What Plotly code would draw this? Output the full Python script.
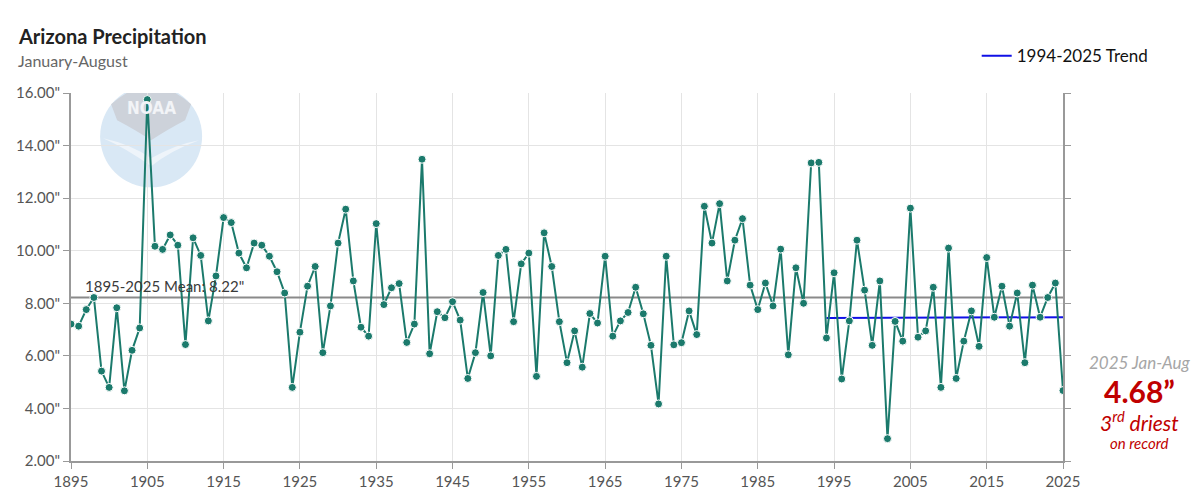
import plotly.graph_objects as go

years = list(range(1895, 2026))
precip = [
    7.21, 7.13, 7.76, 8.22, 5.42, 4.80, 7.83, 4.67, 6.21, 7.06,   # 1895-1904
    15.75, 10.17, 10.05, 10.60, 10.21, 6.43, 10.49, 9.82, 7.33, 9.04,  # 1905-1914
    11.26, 11.07, 9.91, 9.35, 10.29, 10.21, 9.79, 9.20, 8.39, 4.80,  # 1915-1924
    6.90, 8.65, 9.40, 6.12, 7.90, 10.29, 11.58, 8.85, 7.09, 6.75,   # 1925-1934
    11.03, 7.95, 8.59, 8.75, 6.51, 7.21, 13.48, 6.08, 7.68, 7.45,   # 1935-1944
    8.06, 7.36, 5.14, 6.12, 8.41, 6.00, 9.82, 10.05, 7.30, 9.50,    # 1945-1954
    9.91, 5.22, 10.68, 9.40, 7.30, 5.74, 6.95, 5.57, 7.61, 7.25,    # 1955-1964
    9.79, 6.75, 7.33, 7.65, 8.61, 7.60, 6.40, 4.17, 9.79, 6.42,     # 1965-1974
    6.50, 7.71, 6.81, 11.69, 10.29, 11.79, 8.85, 10.40, 11.22, 8.69,  # 1975-1984
    7.76, 8.77, 7.90, 10.06, 6.04, 9.35, 8.00, 13.34, 13.36, 6.68,  # 1985-1994
    9.16, 5.12, 7.33, 10.40, 8.50, 6.40, 8.85, 2.85, 7.31, 6.56,    # 1995-2004
    11.62, 6.71, 6.95, 8.61, 4.80, 10.10, 5.14, 6.56, 7.71, 6.36,   # 2005-2014
    9.74, 7.47, 8.65, 7.13, 8.39, 5.74, 8.69, 7.47, 8.22, 8.77,     # 2015-2024
    4.68,                                                           # 2025
]

mean_value = 8.22
mean_years = [1895, 2025]
trend_years = [1994, 2025]
trend_values = [7.44, 7.47]

y_ticks = [2, 4, 6, 8, 10, 12, 14, 16]
y_ticktext = [f'{v:.2f}"' for v in y_ticks]
x_ticks = list(range(1895, 2026, 10))

FONT = "Lato"
TEAL = "#1b7a6c"

fig = go.Figure()

# mean line
fig.add_trace(go.Scatter(
    x=mean_years, y=[mean_value, mean_value], mode="lines",
    line=dict(color="#8a8a8a", width=2), showlegend=False, hoverinfo="skip"))

# trend line
fig.add_trace(go.Scatter(
    x=trend_years, y=trend_values, mode="lines", name="1994-2025 Trend",
    line=dict(color="#1010e6", width=2), showlegend=True))

# main series
fig.add_trace(go.Scatter(
    x=years, y=precip, mode="lines+markers", name="Precipitation",
    line=dict(color=TEAL, width=2),
    marker=dict(color=TEAL, size=8, line=dict(color="white", width=1)),
    showlegend=False))

# NOAA-like watermark (decoration)
logo_x, logo_y = 1905.5, 14.35
fig.add_shape(type="circle", xref="x", yref="y", xsizemode="pixel", ysizemode="pixel",
              xanchor=logo_x, yanchor=logo_y, x0=-51, x1=51, y0=-51, y1=51,
              fillcolor="#d9e8f5", line=dict(width=0), layer="below")
fig.add_shape(type="path", xref="x", yref="y", xsizemode="pixel", ysizemode="pixel",
              xanchor=logo_x, yanchor=logo_y,
              path="M -40,32 Q 0,68 40,32 L 34,16 Q 15,6 0,-4 Q -15,6 -34,16 Z",
              fillcolor="#cdd2da", line=dict(width=0), layer="below")
fig.add_shape(type="path", xref="x", yref="y", xsizemode="pixel", ysizemode="pixel",
              xanchor=logo_x, yanchor=logo_y,
              path="M -48,-2 Q -20,-8 0,-22 Q 25,-8 48,-4 Q 20,-14 0,-30 Q -25,-12 -48,-2 Z",
              fillcolor="#eef4fa", line=dict(width=0), layer="below")

annotations = [
    dict(text="<b>NOAA</b>", xref="x", yref="y", x=logo_x, y=logo_y, yshift=28,
         showarrow=False, font=dict(family="DejaVu Sans Condensed", size=17, color="#f2f4f7")),
    dict(text="<b>Arizona Precipitation</b>", xref="paper", yref="paper",
         x=-0.0554, y=1.154, xanchor="left", yanchor="middle", showarrow=False,
         font=dict(family=FONT, size=20, color="#222222")),
    dict(text="January-August", xref="paper", yref="paper",
         x=-0.0554, y=1.089, xanchor="left", yanchor="middle", showarrow=False,
         font=dict(family=FONT, size=16, color="#666666")),
    dict(text='1895-2025 Mean: 8.22"', xref="x", yref="y",
         x=1896.6, y=mean_value, xanchor="left", yanchor="bottom", yshift=1,
         showarrow=False, font=dict(family=FONT, size=15, color="#3a3a3a")),
    dict(text="<i>2025 Jan-Aug</i>", xref="paper", yref="paper",
         x=1.0776, y=0.269, xanchor="center", yanchor="middle", showarrow=False,
         font=dict(family=FONT, size=17, color="#a6a6a6")),
    dict(text="<b>4.68\u201d</b>", xref="paper", yref="paper",
         x=1.0776, y=0.190, xanchor="center", yanchor="middle", showarrow=False,
         font=dict(family=FONT, size=30, color="#c00000")),
    dict(text="<i>3<sup>rd</sup> driest</i>", xref="paper", yref="paper",
         x=1.0776, y=0.110, xanchor="center", yanchor="middle", showarrow=False,
         font=dict(family=FONT, size=21, color="#c00000")),
    dict(text="<i>on record</i>", xref="paper", yref="paper",
         x=1.0776, y=0.050, xanchor="center", yanchor="middle", showarrow=False,
         font=dict(family=FONT, size=15, color="#c00000")),
]

# the page body has an 8px margin: figure size/margins compensate for it
fig.update_layout(
    width=1183, height=483,
    margin=dict(l=63, r=128, t=85, b=30, autoexpand=False),
    paper_bgcolor="white", plot_bgcolor="white",
    font=dict(family=FONT, size=15, color="#555555"),
    annotations=annotations,
    legend=dict(x=0.913, y=1.10, xanchor="left", yanchor="middle",
                bgcolor="rgba(0,0,0,0)", font=dict(family=FONT, size=17, color="#111111"),
                itemwidth=30),
    xaxis=dict(range=[1895, 2025], tickvals=x_ticks, ticktext=[str(t) for t in x_ticks],
               showgrid=True, gridcolor="#e4e4e4", gridwidth=1,
               showline=True, linecolor="#999999", linewidth=2,
               ticks="outside", ticklen=6, tickcolor="#999999", automargin=False,
               zeroline=False, tickfont=dict(size=15, color="#555555")),
    yaxis=dict(range=[2, 16], tickvals=y_ticks, ticktext=y_ticktext,
               showgrid=True, gridcolor="#e4e4e4", gridwidth=1,
               showline=True, linecolor="#999999", linewidth=2, mirror="ticks",
               ticks="outside", ticklen=6, tickcolor="#999999", automargin=False,
               zeroline=False, tickfont=dict(size=15, color="#555555")),
)

fig.write_html("out.html")
